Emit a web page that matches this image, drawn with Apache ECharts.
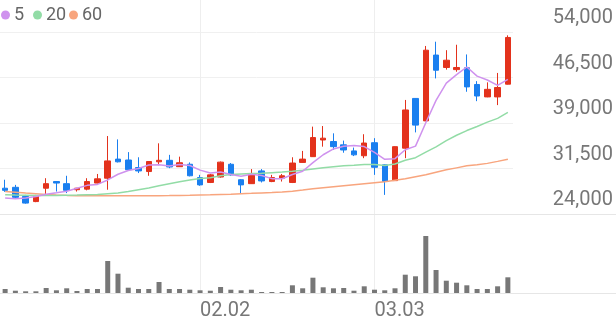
<!DOCTYPE html>
<html><head><meta charset="utf-8">
<script src="https://cdn.jsdelivr.net/npm/echarts@6/dist/echarts.min.js"></script>
<style>html,body{margin:0;padding:0;background:#fff}#c{width:616px;height:321px}</style>
</head><body><div id="c"></div>
<script>
const dates = ['01.06','01.07','01.08','01.09','01.12','01.13','01.14','01.15','01.16','01.19',
  '01.20','01.21','01.22','01.23','01.26','01.27','01.28','01.29','01.30','02.02',
  '02.03','02.04','02.05','02.06','02.09','02.10','02.11','02.12','02.13','02.19',
  '02.20','02.23','02.24','02.25','02.26','02.27','03.03','03.04','03.05','03.06',
  '03.09','03.10','03.11','03.12','03.13','03.16','03.17','03.18','03.19','03.20'];
// [open, close, low, high]
const ohlc = [
  [28250,27900,27650,29650],[28400,26750,26650,28800],[26900,25800,25700,27150],[26050,27000,25950,27150],
  [28250,29000,27300,29900],[29350,29100,27700,29400],[29000,27900,27450,30300],[28000,28250,27700,28300],
  [28100,29350,27900,29900],[29100,29800,29050,30600],[29900,32750,28000,36850],[33050,32600,32500,36300],
  [32900,31300,31150,34200],[31650,31100,30750,33350],[31000,32650,30300,32700],[32600,32850,32050,35650],
  [32850,31750,31550,33750],[31800,32450,31750,33450],[32200,30300,30200,32500],[30000,28800,28650,30450],
  [29200,30450,29100,30600],[30100,32550,30000,32650],[32200,30450,30300,32400],[29650,28800,27450,29750],
  [29000,30450,28950,31400],[31100,29450,29200,31400],[29350,30000,29250,30450],[29900,30300,29350,30600],
  [29200,32400,29100,33350],[32500,33050,32450,34400],[33450,36600,33400,38400],[36200,36500,35100,38500],
  [35950,35100,34550,37300],[35400,34550,34100,36100],[34400,33750,33550,34950],[33600,35700,33200,37150],
  [35750,31700,30450,36500],[32100,29350,27150,32150],[29500,35100,29450,35150],[34850,41150,33200,42800],
  [43050,38650,37450,43100],[39350,51000,39300,51700],[50200,47700,46350,52400],[48150,49350,47800,51000],
  [47800,48150,47450,51900],[48100,44950,44150,50300],[45350,43450,42600,45900],[43300,44550,43250,45700],
  [43300,44850,41950,47250],[45400,53100,45350,53450]];
const volume = [353000,203000,150000,150000,441000,238000,415000,176000,353000,353000,
  2824000,1703000,468000,353000,353000,971000,353000,353000,291000,238000,
  203000,529000,291000,238000,291000,88000,88000,88000,679000,415000,
  1350000,503000,415000,441000,203000,591000,291000,238000,415000,1615000,
  1474000,5029000,2029000,1085000,909000,679000,353000,353000,591000,1385000];
const ma5 = [26630,26520,26630,26890,27270,27510,27760,28250,28720,28880,
  29610,30550,31160,31510,32080,32100,31930,32160,32000,31230,
  30750,30910,30510,30210,30540,30340,29830,29800,30520,31040,
  32470,33770,34730,35160,35300,35120,34160,33010,33120,34600,
  35190,39050,42720,45570,46970,48230,46720,46090,45190,46180];
const ma20 = [27170,27120,27090,27060,27060,27060,27090,27120,27170,27220,
  27340,27450,27710,27990,28270,28650,28980,29310,29590,29865,
  29993,30288,30520,30610,30683,30700,30805,30908,31060,31223,
  31415,31610,31800,31973,32028,32170,32168,32013,32253,32870,
  33280,34203,35065,36093,36978,37753,38425,39138,39760,40763];
const ma60 = [27710,27580,27450,27335,27220,27140,27070,27020,27010,26990,
  26990,26990,26990,27010,27010,27020,27040,27070,27100,27140,
  27170,27220,27270,27335,27400,27470,27530,27615,27745,27945,
  28155,28320,28485,28650,28815,28980,29145,29305,29555,29800,
  30130,30455,30870,31280,31605,31935,32135,32345,32675,33040];
const priceMin = 24000, priceMax = 54000, priceStep = 7500;
const xTickLabels = ['02.02','03.03'];
const volMax = 6000000;

const RED = '#e3321c', BLUE = '#1a7fef';
const C5 = '#cf92ee', C20 = '#92dca6', C60 = '#f8a57e';
const FONT = 'Roboto';
const isTick = (i, v) => xTickLabels.indexOf(v) >= 0;

const chart = echarts.init(document.getElementById('c'), null, {renderer: 'canvas'});
const legendBase = {
  top: 6, icon: 'circle', itemWidth: 9, itemHeight: 9, padding: 0,
  textStyle: {fontSize: 18, color: '#666', fontFamily: FONT, padding: [0, 0, 0, -1]},
  selectedMode: false
};
chart.setOption({
  animation: false,
  backgroundColor: '#fff',
  legend: [
    Object.assign({}, legendBase, {left: 1, data: ['5']}),
    Object.assign({}, legendBase, {left: 33, data: ['20']}),
    Object.assign({}, legendBase, {left: 69, data: ['60']})
  ],
  grid: [
    {left: 0, right: 103, top: 32, bottom: 107},   // candles
    {left: 0, right: 103, top: 225, bottom: 28},   // volume
    {left: 0, right: 103, top: 0, bottom: 28},     // date lines + labels
    {left: 0, right: 0, top: 32, bottom: 107},     // price labels + bottom line
    {left: 0, right: 0, top: 225, bottom: 28}      // volume baseline
  ],
  xAxis: [
    {gridIndex: 0, type: 'category', data: dates, boundaryGap: true, show: false},
    {gridIndex: 1, type: 'category', data: dates, boundaryGap: true, show: false},
    {gridIndex: 2, type: 'category', data: dates, boundaryGap: true,
      axisLine: {show: false}, axisTick: {show: false},
      axisLabel: {interval: isTick, align: 'left', margin: 9, fontSize: 20, color: '#777', fontFamily: FONT},
      splitLine: {show: true, interval: isTick, alignWithLabel: true, lineStyle: {color: '#eeeeee', width: 1}}},
    {gridIndex: 3, type: 'value', min: 0, max: 1,
      axisLine: {show: true, lineStyle: {color: '#e6e6e6'}}, axisTick: {show: false},
      axisLabel: {show: false}, splitLine: {show: false}},
    {gridIndex: 4, type: 'value', min: 0, max: 1,
      axisLine: {show: true, lineStyle: {color: '#e6e6e6'}}, axisTick: {show: false},
      axisLabel: {show: false}, splitLine: {show: false}}
  ],
  yAxis: [
    {gridIndex: 0, type: 'value', position: 'right', min: priceMin, max: priceMax, interval: priceStep,
      axisLine: {show: false}, axisTick: {show: false}, axisLabel: {show: false},
      splitLine: {show: true, lineStyle: {color: '#f0f0f0'}}},
    {gridIndex: 1, type: 'value', min: 0, max: volMax, show: false, splitLine: {show: false}},
    {gridIndex: 2, type: 'value', min: 0, max: 1, show: false},
    {gridIndex: 3, type: 'value', position: 'right', min: priceMin, max: priceMax, interval: priceStep,
      axisLine: {show: false}, axisTick: {show: false}, splitLine: {show: false},
      axisLabel: {inside: true, margin: 3, fontSize: 20, color: '#777', fontFamily: FONT,
        verticalAlign: 'bottom', padding: [0, 0, 4, 0],
        formatter: v => v.toLocaleString('en-US')}},
    {gridIndex: 4, type: 'value', min: 0, max: 1, show: false}
  ],
  series: [
    {name: 'price', type: 'candlestick', xAxisIndex: 0, yAxisIndex: 0, data: ohlc, barWidth: 6,
      itemStyle: {color: RED, color0: BLUE, borderColor: RED, borderColor0: BLUE, borderWidth: 1}},
    {name: 'vol', type: 'bar', xAxisIndex: 1, yAxisIndex: 1, data: volume, barWidth: 5,
      itemStyle: {color: '#777'}},
    {name: '60', type: 'line', xAxisIndex: 0, yAxisIndex: 0, data: ma60, symbol: 'none',
      lineStyle: {color: C60, width: 1.5}, itemStyle: {color: C60}},
    {name: '20', type: 'line', xAxisIndex: 0, yAxisIndex: 0, data: ma20, symbol: 'none',
      lineStyle: {color: C20, width: 1.5}, itemStyle: {color: C20}},
    {name: '5', type: 'line', xAxisIndex: 0, yAxisIndex: 0, data: ma5, symbol: 'none',
      lineStyle: {color: C5, width: 1.5}, itemStyle: {color: C5}}
  ]
});
</script></body></html>
